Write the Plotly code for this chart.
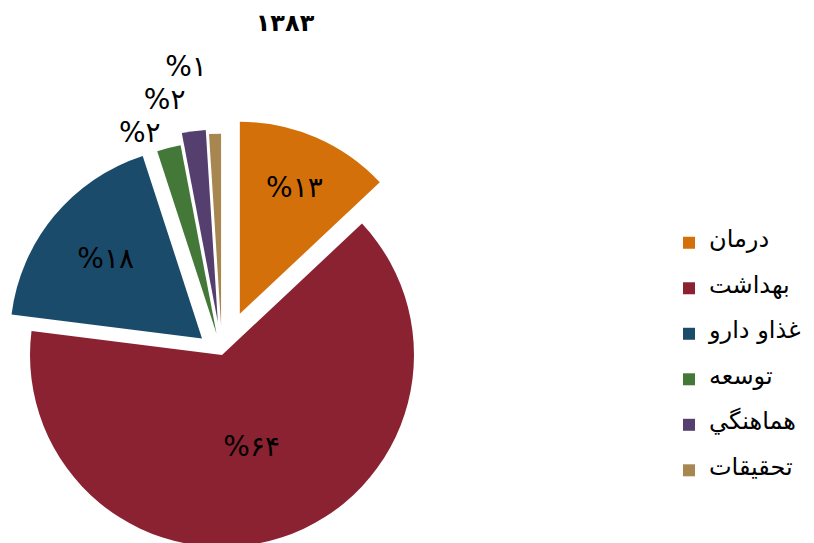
import plotly.graph_objects as go

title_text = "۱۳۸۳"
categories = ["درمان", "بهداشت", "غذاو دارو", "توسعه", "هماهنگي", "تحقيقات"]
values = [13, 64, 18, 2, 2, 1]
value_labels = ["%۱۳", "%۶۴", "%۱۸", "%۲", "%۲", "%۱"]
colors = ["#D4700A", "#8B2232", "#1A4B6B", "#437838", "#543F6E", "#A8864F"]
explode = [0.234, 0.0, 0.135, 0.114, 0.175, 0.153]

# The figure is a little larger than the 814x543 window and shifted left by OFF px,
# so that the exploded pie can be cut by the window edges as in the reference.
OFF = 20
W, H = 814 + OFF, 600
CX, CY, R = 222 + OFF, 355, 192
half = R * (1 + max(explode))

legend_names = [" <br><span style='font-size:24px'>%s</span><br> " % c for c in categories]

fig = go.Figure(go.Pie(
    labels=legend_names,
    values=values,
    text=value_labels,
    textinfo="text",
    sort=False,
    direction="clockwise",
    rotation=0,
    pull=explode,
    marker=dict(colors=colors, line=dict(width=0)),
    textfont=dict(family="DejaVu Sans", size=28, color="black"),
    insidetextorientation="horizontal",
    textposition=["inside", "inside", "inside", "outside", "outside", "outside"],
    domain=dict(x=[(CX - half) / W, (CX + half) / W],
                y=[(H - CY - half) / H, (H - CY + half) / H]),
    automargin=False,
    hoverinfo="skip",
))

fig.update_layout(
    width=W, height=H,
    margin=dict(l=0, r=0, t=0, b=0),
    paper_bgcolor="white",
    plot_bgcolor="white",
    font=dict(family="DejaVu Sans", color="black"),
    title=dict(text="<b>%s</b>" % title_text, x=(285 + OFF) / W, xanchor="center",
               y=1 - 23 / H, yanchor="middle",
               font=dict(family="DejaVu Sans", size=24, color="black")),
    legend=dict(x=(669 + OFF) / W, xanchor="left", y=1 - 357 / H, yanchor="middle",
                font=dict(family="DejaVu Sans", size=10.9, color="black"),
                bgcolor="rgba(0,0,0,0)", traceorder="normal"),
    showlegend=True,
)

post = """
document.documentElement.style.overflow = 'hidden';
document.body.style.margin = '0';
document.body.style.overflow = 'hidden';
var gd = document.getElementById('{plot_id}');
gd.style.marginLeft = '-%dpx';
document.querySelectorAll('path.textline').forEach(function(e){ e.remove(); });
""" % OFF
fig.write_html("out.html", post_script=post, config={"displayModeBar": False})
